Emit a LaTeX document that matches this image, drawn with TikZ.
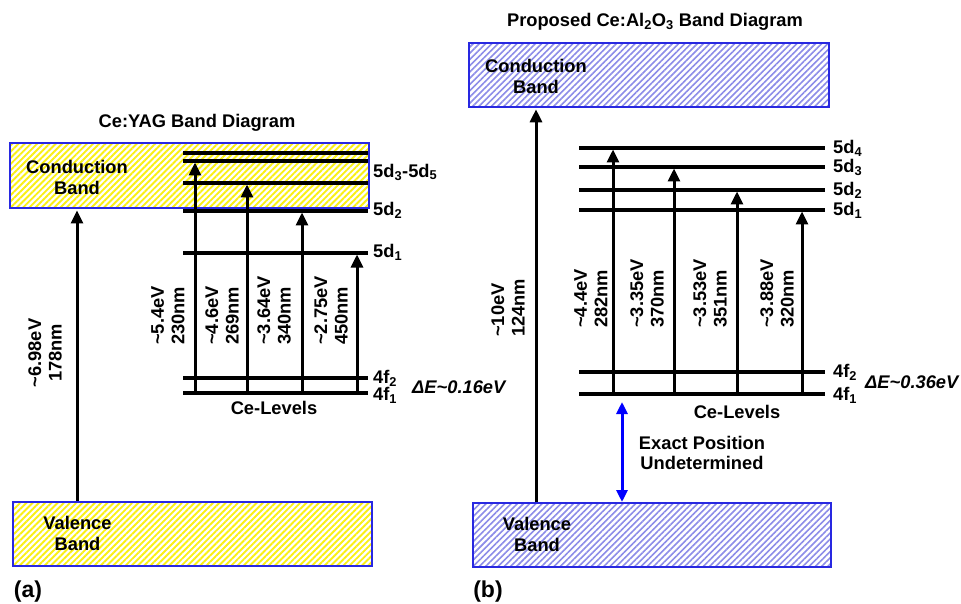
\documentclass[tikz,border=0pt]{standalone}
\usepackage{fontspec}
\setmainfont{Liberation Sans}
\usepackage{tikz}
\usetikzlibrary{arrows.meta,patterns.meta}

\definecolor{bandblue}{RGB}{40,40,225}
\definecolor{hatchyellow}{RGB}{250,240,20}
\definecolor{hatchblue}{RGB}{140,140,232}
\newcommand{\tl}{\textasciitilde}

\begin{document}
\begin{tikzpicture}[
    x=1pt, y=-1pt,
    every node/.style={font=\bfseries\fontsize{18.3}{20.5}\selectfont, inner sep=0pt},
    band/.style={draw=bandblue, line width=2pt, preaction={fill=white}},
    yagband/.style={band, pattern={Lines[angle=45,distance=4.4pt,line width=1.9pt]}, pattern color=hatchyellow},
    alband/.style={band, pattern={Lines[angle=45,distance=4.4pt,line width=1.6pt]}, pattern color=hatchblue},
    level/.style={line width=3.2pt},
    trans/.style={line width=3pt, shorten >=1.5pt, -{Triangle[length=13pt,width=12pt]}},
    undet/.style={line width=3pt, blue, {Triangle[length=12pt,width=11pt]}-{Triangle[length=12pt,width=11pt]}},
    lab/.style={rotate=90, anchor=west, align=left},
    lvl/.style={anchor=west},
    panel/.style={font=\bfseries\fontsize{23}{26}\selectfont}
]
\useasboundingbox (0,0) rectangle (961,604);

% (a) Ce:YAG
\node (titA) at (197,123) {Ce:YAG Band Diagram};
\node[yagband, minimum width=359pt, minimum height=65pt] (cbA) at (189.5,175.5) {};
\node[yagband, minimum width=359pt, minimum height=64pt] (vbA) at (192.5,534) {};
\node[align=center] (cbtA) at (77,177.5) {Conduction\\Band};
\node[align=center] (vbtA) at (77.5,533.5) {Valence\\Band};

\foreach \n/\y in {d5/153,d4/161,d3/183,d2/211,d1/253,f2/378,f1/393}
    \draw[level] (183,\y) -- (368,\y) coordinate (a\n);

\node[lvl] (la35) at (373,172) {5d\textsubscript{3}-5d\textsubscript{5}};
\node[lvl] (la2) at (373,210) {5d\textsubscript{2}};
\node[lvl] (la1) at (373,252) {5d\textsubscript{1}};
\node[lvl] (laf2) at (373,378) {4f\textsubscript{2}};
\node[lvl] (laf1) at (373,395) {4f\textsubscript{1}};
\node[lvl] (dEA) at (412,387) {\textit{ΔE\tl0.16eV}};
\node (ceA) at (274,408) {Ce-Levels};

\draw[trans] (vbA.north -| cbtA) -- (cbA.south -| cbtA);
\draw[trans] (195,0 |- af1) -- (195,0 |- ad4);
\draw[trans] (247,0 |- af1) -- (247,0 |- ad3);
\draw[trans] (302,0 |- af1) -- (302,0 |- ad2);
\draw[trans] (357,0 |- af1) -- (357,0 |- ad1);

\node[rotate=90, align=center] (ta0) at (45,353) {\tl6.98eV\\178nm};
\node[lab] (ta1) at (168,345) {\tl5.4eV\\230nm};
\node[lab] (ta2) at (222,345) {\tl4.6eV\\269nm};
\node[lab] (ta3) at (274,345) {\tl3.64eV\\340nm};
\node[lab] (ta4) at (331,345) {\tl2.75eV\\450nm};

\node[panel] (pa) at (28,592) {(a)};

% (b) Ce:Al2O3
\node (titB) at (655,22) {Proposed Ce:Al\textsubscript{2}O\textsubscript{3} Band Diagram};
\node[alband, minimum width=360pt, minimum height=64pt] (cbB) at (649,75) {};
\node[alband, minimum width=358pt, minimum height=64pt] (vbB) at (652,535) {};
\node[align=center] (cbtB) at (536,76.5) {Conduction\\Band};
\node[align=center] (vbtB) at (537,534.5) {Valence\\Band};

\foreach \n/\y in {d4/148,d3/167,d2/190,d1/210,f2/372,f1/394}
    \draw[level] (579,\y) -- (825,\y) coordinate (b\n);

\node[lvl] (lb4) at (833,148) {5d\textsubscript{4}};
\node[lvl] (lb3) at (833,167) {5d\textsubscript{3}};
\node[lvl] (lb2) at (833,190) {5d\textsubscript{2}};
\node[lvl] (lb1) at (833,210) {5d\textsubscript{1}};
\node[lvl] (lbf2) at (833,372) {4f\textsubscript{2}};
\node[lvl] (lbf1) at (833,395) {4f\textsubscript{1}};
\node[lvl] (dEB) at (865,382) {\textit{ΔE\tl0.36eV}};
\node (ceB) at (737,412) {Ce-Levels};

\draw[trans] (vbB.north -| cbtB) -- (cbB.south -| cbtB);
\draw[trans] (613,0 |- bf1) -- (613,0 |- bd4);
\draw[trans] (674,0 |- bf1) -- (674,0 |- bd3);
\draw[trans] (737,0 |- bf1) -- (737,0 |- bd2);
\draw[trans] (802,0 |- bf1) -- (802,0 |- bd1);

\node[lab] (tb0) at (508,337) {\tl10eV\\124nm};
\node[lab] (tb1) at (591,328) {\tl4.4eV\\282nm};
\node[lab] (tb2) at (647,328) {\tl3.35eV\\370nm};
\node[lab] (tb3) at (710,328) {\tl3.53eV\\351nm};
\node[lab] (tb4) at (777,328) {\tl3.88eV\\320nm};

\coordinate (ub) at (622,402);
\draw[undet] (ub) -- (vbB.north -| ub);
\node[align=center] (exB) at (702,453) {Exact Position\\Undetermined};

\node[panel] (pb) at (488,592) {(b)};
\end{tikzpicture}
\end{document}
